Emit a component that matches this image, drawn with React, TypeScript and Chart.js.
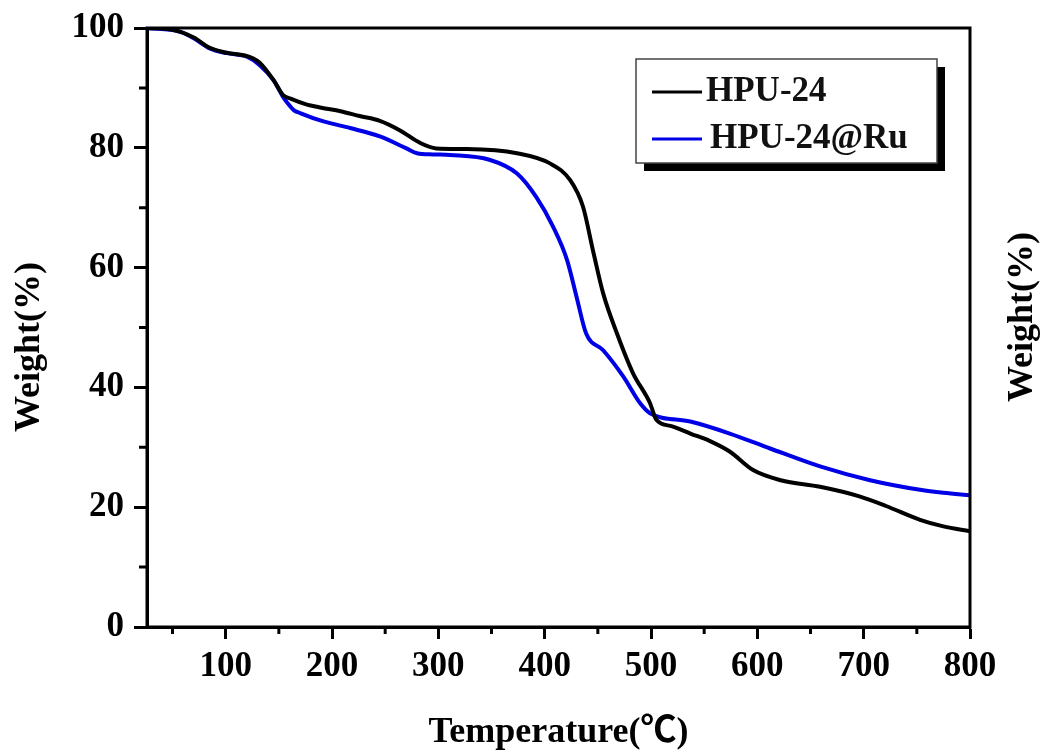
import React, { useEffect, useRef } from 'react';
import { Chart, registerables } from 'chart.js';

Chart.register(...registerables);

// ---- data ----
const SERIES_LABELS = ['HPU-24', 'HPU-24@Ru'];

const TEMP_HPU24 = [26, 50, 70, 85, 100, 118, 126, 132, 145, 154, 161, 175, 190, 208, 226, 245, 264, 283, 298, 327, 374, 405, 424, 436, 446, 455, 468, 483, 499, 505, 520, 537, 556, 574, 596, 622, 659, 696, 721, 753, 775, 800];
const WEIGHT_HPU24 = [100, 99.7, 98.4, 96.7, 95.9, 95.4, 94.9, 94.2, 91.3, 88.8, 88.2, 87.3, 86.7, 86.1, 85.3, 84.5, 82.9, 80.8, 79.9, 79.8, 79.1, 77.4, 74.6, 70.2, 62.4, 55.7, 49.0, 42.4, 37.4, 34.6, 33.5, 32.3, 31.0, 29.3, 26.2, 24.5, 23.4, 21.8, 20.2, 17.9, 16.8, 16.0];

const TEMP_RU = [26, 57, 70, 85, 101, 120, 132, 145, 154, 158, 164, 170, 192, 217, 245, 270, 280, 295, 311, 348, 374, 392, 408, 421, 430, 439, 455, 474, 490, 499, 537, 574, 612, 659, 706, 753, 775, 800];
const WEIGHT_RU = [100, 99.4, 98.3, 96.6, 95.8, 95.2, 93.8, 91.3, 88.5, 87.5, 86.3, 85.8, 84.4, 83.3, 81.9, 79.9, 79.1, 78.9, 78.8, 78.0, 75.7, 71.8, 66.8, 61.3, 55.1, 49.0, 46.2, 41.8, 37.3, 35.7, 34.3, 32.3, 29.8, 26.8, 24.5, 22.9, 22.4, 22.0];

const X_MAJOR_TICKS = [100, 200, 300, 400, 500, 600, 700, 800];
const X_MINOR_TICKS = [50, 150, 250, 350, 450, 550, 650, 750];
const Y_MAJOR_TICKS = [0, 20, 40, 60, 80, 100];
const Y_MINOR_TICKS = [10, 30, 50, 70, 90];

const X_TITLE = 'Temperature(℃)';
const Y_TITLE = 'Weight(%)';

const SERIES_COLORS = ['#000000', '#0000e6'];
const FONT_FAMILY = '"Liberation Serif", "Times New Roman", "Noto Sans CJK SC", "DejaVu Serif", serif';

const decorPlugin = {
  id: 'decor',
  afterDraw(chart: any) {
    const { ctx, chartArea } = chart;
    const xs = chart.scales.x;
    const ys = chart.scales.y;
    ctx.save();
    // frame
    ctx.strokeStyle = '#000';
    ctx.lineWidth = 3;
    ctx.strokeRect(chartArea.left, chartArea.top, chartArea.right - chartArea.left, chartArea.bottom - chartArea.top);
    // minor ticks
    ctx.lineWidth = 3;
    ctx.beginPath();
    X_MINOR_TICKS.forEach((v) => {
      const px = xs.getPixelForValue(v);
      ctx.moveTo(px, chartArea.bottom);
      ctx.lineTo(px, chartArea.bottom + 7);
    });
    Y_MINOR_TICKS.forEach((v) => {
      const py = ys.getPixelForValue(v);
      ctx.moveTo(chartArea.left, py);
      ctx.lineTo(chartArea.left - 8, py);
    });
    ctx.stroke();

    // y titles (left and right, both read bottom-to-top)
    ctx.fillStyle = '#000';
    ctx.font = `bold 36px ${FONT_FAMILY}`;
    ctx.textAlign = 'center';
    ctx.textBaseline = 'middle';
    ctx.save();
    ctx.translate(30, 347);
    ctx.rotate(-Math.PI / 2);
    ctx.fillText(Y_TITLE, 0, 0);
    ctx.restore();
    ctx.save();
    ctx.translate(chartArea.right + 53, 317);
    ctx.rotate(-Math.PI / 2);
    ctx.fillText(Y_TITLE, 0, 0);
    ctx.restore();

    // legend
    const L = chartArea.right - 334;
    const T = chartArea.top + 31;
    const W = 301;
    const H = 104;
    ctx.fillStyle = '#000';
    ctx.fillRect(L + 8, T + 8, W, H);
    ctx.fillStyle = '#fff';
    ctx.fillRect(L, T, W, H);
    ctx.strokeStyle = '#444';
    ctx.lineWidth = 1.5;
    ctx.strokeRect(L, T, W, H);
    ctx.font = `bold 35px ${FONT_FAMILY}`;
    ctx.textAlign = 'left';
    ctx.textBaseline = 'middle';
    chart.data.datasets.forEach((ds: any, i: number) => {
      const cy = T + 33 + i * 47;
      ctx.strokeStyle = ds.borderColor;
      ctx.lineWidth = 3;
      ctx.beginPath();
      ctx.moveTo(L + 16, cy);
      ctx.lineTo(L + 66, cy);
      ctx.stroke();
      ctx.fillStyle = '#111';
      ctx.fillText(ds.label, L + 70 + i * 4, cy);
    });
    ctx.restore();
  },
};

export default function App() {
  const canvasRef = useRef<HTMLCanvasElement | null>(null);

  useEffect(() => {
    const canvas = canvasRef.current;
    if (!canvas) return;
    const tickFont = { family: FONT_FAMILY, size: 35, weight: 'bold' as const, lineHeight: 1 };
    const chart = new Chart(canvas, {
      type: 'line',
      data: {
        datasets: [
          {
            label: SERIES_LABELS[0],
            data: TEMP_HPU24.map((x, i) => ({ x, y: WEIGHT_HPU24[i] })),
            borderColor: SERIES_COLORS[0],
            borderWidth: 4,
            pointRadius: 0,
            cubicInterpolationMode: 'monotone',
            fill: false,
          },
          {
            label: SERIES_LABELS[1],
            data: TEMP_RU.map((x, i) => ({ x, y: WEIGHT_RU[i] })),
            borderColor: SERIES_COLORS[1],
            borderWidth: 4,
            pointRadius: 0,
            cubicInterpolationMode: 'monotone',
            fill: false,
          },
        ],
      },
      options: {
        animation: false,
        responsive: false,
        devicePixelRatio: 1,
        layout: { padding: { top: 28, right: 73, left: 0, bottom: 0 } },
        plugins: { legend: { display: false }, tooltip: { enabled: false } },
        scales: {
          x: {
            type: 'linear',
            position: 'bottom',
            min: 26,
            max: 800,
            afterBuildTicks: (s: any) => {
              s.ticks = X_MAJOR_TICKS.map((v) => ({ value: v }));
            },
            afterFit: (s: any) => {
              s.height = 126;
            },
            grid: { drawOnChartArea: false, drawTicks: true, tickLength: 12, tickWidth: 3, tickColor: '#000' },
            border: { display: true, color: '#000', width: 3 },
            ticks: { font: tickFont, color: '#000', padding: 10, maxRotation: 0, autoSkip: false },
            title: {
              display: true,
              text: X_TITLE,
              color: '#000',
              font: { family: FONT_FAMILY, size: 36, weight: 'bold', lineHeight: 1 },
              padding: { top: 0, bottom: 2 },
            },
          },
          y: {
            type: 'linear',
            position: 'left',
            min: 0,
            max: 100,
            afterBuildTicks: (s: any) => {
              s.ticks = Y_MAJOR_TICKS.map((v) => ({ value: v }));
            },
            afterFit: (s: any) => {
              s.width = 147;
            },
            grid: { drawOnChartArea: false, drawTicks: true, tickLength: 13, tickWidth: 3, tickColor: '#000' },
            border: { display: true, color: '#000', width: 3 },
            ticks: { font: tickFont, color: '#000', padding: 10 },
          },
        },
      },
      plugins: [decorPlugin],
    } as any);
    return () => chart.destroy();
  }, []);

  return (
    <div style={{ position: 'fixed', left: 0, top: 0, width: 1043, height: 753, background: '#fff' }}>
      <canvas ref={canvasRef} width={1043} height={753} style={{ width: 1043, height: 753, display: 'block' }} />
    </div>
  );
}
